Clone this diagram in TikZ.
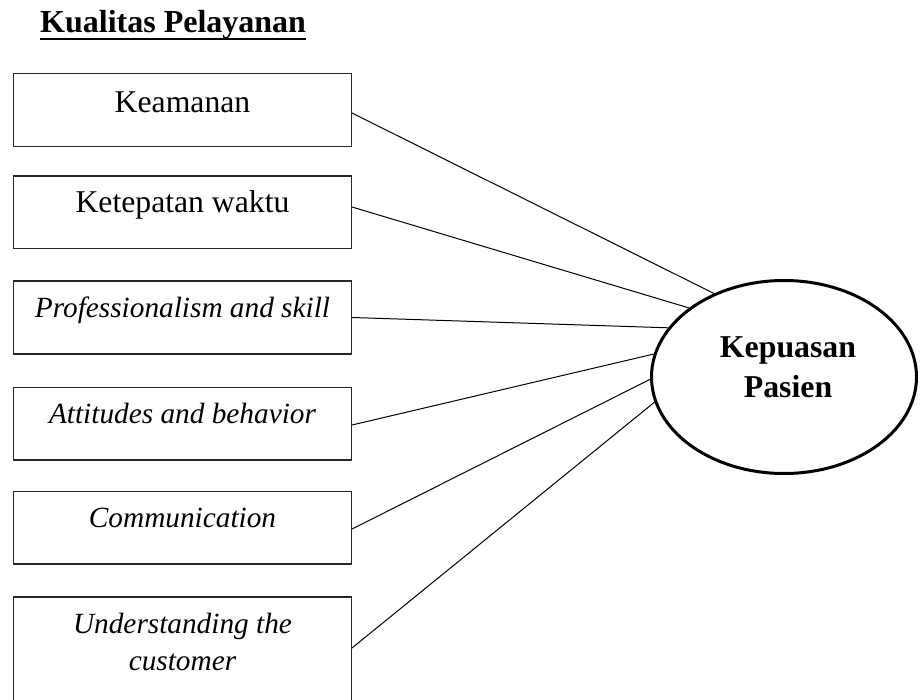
\documentclass[tikz,border=0pt]{standalone}
\usepackage{fontspec}
\setmainfont{Liberation Serif}
\usetikzlibrary{shapes.geometric}
\begin{document}
\begin{tikzpicture}[x=1pt,y=-1pt,
  box/.style={draw=black!85, line width=1.2pt, rectangle, minimum width=337.8pt, minimum height=72.8pt, inner sep=0pt},
  txt/.style={font=\fontsize{31.7}{37}\selectfont, inner sep=0pt, anchor=base},
  itxt/.style={font=\fontsize{29.3}{37}\selectfont\itshape, inner sep=0pt, anchor=base},
  btxt/.style={font=\fontsize{31.8}{40}\selectfont\bfseries, inner sep=0pt, anchor=base},
  link/.style={draw=black, line width=1pt}]
\useasboundingbox (0,0) rectangle (920,700);
\clip (0,0) rectangle (920,700);

% title
\node[font=\fontsize{32}{38}\selectfont\bfseries, inner sep=0pt, anchor=base west] (title) at (40,33) {Kualitas Pelayanan};
\draw[line width=2pt] ([yshift=-6.5pt]title.base west) -- ([yshift=-6.5pt]title.base east);

% boxes
\node[box] (b1) at (182.5,110) {};
\node[box] (b2) at (182.5,212.5) {};
\node[box] (b3) at (182.5,317.5) {};
\node[box] (b4) at (182.5,423.5) {};
\node[box] (b5) at (182.5,527.5) {};
\node[box, minimum height=106pt] (b6) at (182.5,650) {};

% box texts
\node[txt] (t1) at (182.5,113) {Keamanan};
\node[txt] (t2) at (182.5,213) {Ketepatan waktu};
\node[itxt] (t3) at (182.5,317) {Professionalism and skill};
\node[itxt] (t4) at (182.5,423) {Attitudes and behavior};
\node[itxt] (t5) at (182.5,527) {Communication};
\node[itxt] (t6a) at (182.5,633) {Understanding the};
\node[itxt] (t6b) at (182.5,670) {customer};

% ellipse
\node[ellipse, draw=black, line width=3pt, minimum width=265pt, minimum height=193pt, inner sep=0pt] (kp) at (784,377) {};
\node[btxt] (k1) at (788,357) {Kepuasan};
\node[btxt] (k2) at (788,397) {Pasien};

% connectors
\draw[link] ([yshift=-3pt]b1.east) -- (kp.130);
\draw[link] ([yshift=5.5pt]b2.east) -- (kp.144);
\draw[link] (b3.east) -- (kp.157);
\draw[link] ([yshift=-1.5pt]b4.east) -- (kp.170);
\draw[link] ([yshift=-1.5pt]b5.east) -- (kp.181);
\draw[link] ([yshift=2pt]b6.east) -- (kp.191);
\end{tikzpicture}
\end{document}
